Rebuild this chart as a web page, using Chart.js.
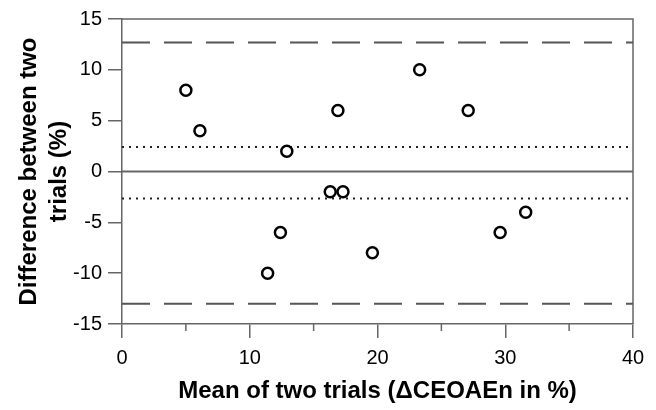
<!DOCTYPE html>
<html>
<head>
<meta charset="utf-8">
<script src="https://cdn.jsdelivr.net/npm/chart.js@4"></script>
<style>
  html, body { margin: 0; padding: 0; background: #fff; }
  #wrap { width: 656px; height: 410px; }
</style>
</head>
<body>
<div id="wrap"><canvas id="chart" width="656" height="410"></canvas></div>
<script>
// Mean of two trials vs difference between them (Bland-Altman)
const meanValues = [5.0, 6.1, 12.9, 16.3, 17.3, 12.4, 11.4, 19.6, 23.3, 27.1, 31.6, 29.6, 16.9]
const diffValues = [8, 4, 2, -2, -2, -6, -10, -8, 10, 6, -4, -6, 6]

// Reference lines
const limitUpper = 12.7
const limitLower = -13.0
const bandUpper = 2.4
const bandLower = -2.65
const zeroLine = 0

const xRange = [0, 40]
const yRange = [-15, 15]
const xMinorTicks = [5, 15, 25, 35]

const axisColor = '#666'

const points = meanValues.map((m, i) => ({ x: m, y: diffValues[i] }))

// Horizontal line across the whole x range
function hLine(value) {
  return [{ x: xRange[0], y: value }, { x: xRange[1], y: value }]
}

function lineSet(value, dash, color, width) {
  return {
    type: 'line',
    data: hLine(value),
    borderColor: color,
    borderWidth: width,
    borderDash: dash,
    pointRadius: 0,
    fill: false
  }
}

// Box around the plot + short minor ticks on x
const framePlugin = {
  id: 'frame',
  beforeDatasetsDraw(chart) {
    const { ctx, chartArea, scales } = chart
    ctx.save()
    ctx.strokeStyle = axisColor
    ctx.lineWidth = 1.5
    ctx.beginPath()
    ctx.moveTo(chartArea.left, chartArea.top)
    ctx.lineTo(chartArea.right, chartArea.top)
    ctx.lineTo(chartArea.right, chartArea.bottom)
    ctx.stroke()
    xMinorTicks.forEach(v => {
      const px = scales.x.getPixelForValue(v)
      ctx.beginPath()
      ctx.moveTo(px, chartArea.bottom)
      ctx.lineTo(px, chartArea.bottom + 7)
      ctx.stroke()
    })
    ctx.restore()
  }
}

const tickFont = { family: 'Liberation Sans, Arial, sans-serif', size: 20 }
const titleFont = { family: 'Liberation Sans, Arial, sans-serif', size: 24, weight: 'bold' }

new Chart(document.getElementById('chart').getContext('2d'), {
  type: 'scatter',
  data: {
    datasets: [
      {
        data: points,
        pointRadius: 5.5,
        pointBorderWidth: 2.5,
        pointBorderColor: '#000',
        pointBackgroundColor: '#fff'
      },
      lineSet(limitUpper, [28, 14], '#555', 2),
      lineSet(limitLower, [28, 14], '#555', 2),
      lineSet(bandUpper, [2, 5], '#222', 2),
      lineSet(bandLower, [2, 5], '#222', 2),
      lineSet(zeroLine, [], axisColor, 2)
    ]
  },
  options: {
    responsive: false,
    animation: false,
    layout: { padding: { top: 19, right: 23, left: 0, bottom: 0 } },
    plugins: {
      legend: { display: false },
      tooltip: { enabled: false }
    },
    scales: {
      x: {
        type: 'linear',
        min: xRange[0],
        max: xRange[1],
        afterFit: scale => { scale.height = 86 },
        ticks: { stepSize: 10, color: '#000', font: tickFont, padding: 8 },
        grid: { drawOnChartArea: false, tickLength: 14, color: axisColor, lineWidth: 1.5 },
        border: { color: axisColor, width: 1.5 },
        title: {
          display: true,
          text: 'Mean of two trials (\u0394CEOAEn in %)',
          color: '#000',
          font: titleFont,
          padding: { top: 0, bottom: 4 }
        }
      },
      y: {
        type: 'linear',
        min: yRange[0],
        max: yRange[1],
        afterFit: scale => { scale.width = 122 },
        ticks: { stepSize: 5, color: '#000', font: tickFont, padding: 6 },
        grid: { drawOnChartArea: false, tickLength: 14, color: axisColor, lineWidth: 1.5 },
        border: { color: axisColor, width: 1.5 },
        title: {
          display: true,
          text: ['Difference between two', 'trials (%)'],
          color: '#000',
          font: { ...titleFont, lineHeight: 1.25 },
          padding: { top: 14, bottom: 0 }
        }
      }
    }
  },
  plugins: [framePlugin]
})
</script>
</body>
</html>
